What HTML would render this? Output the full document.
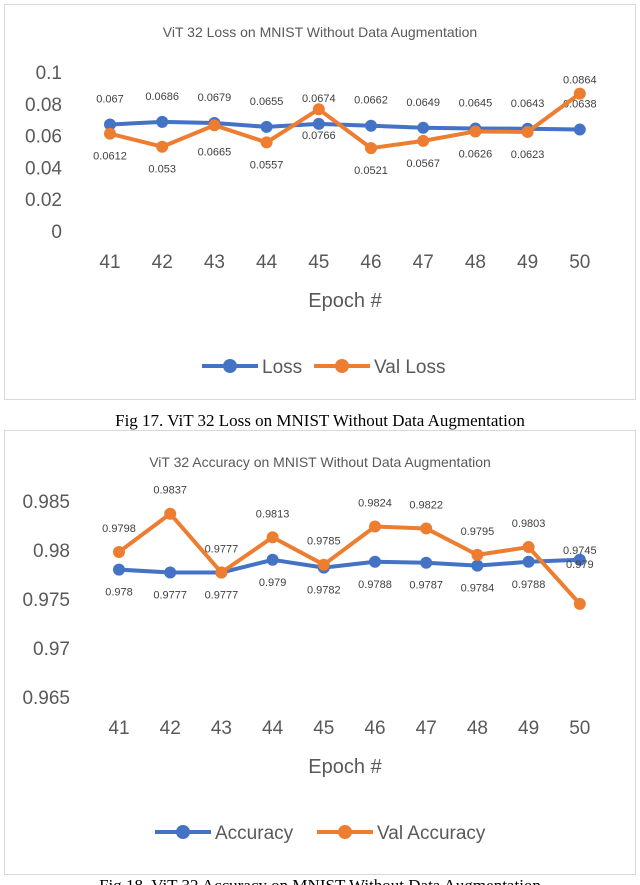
<!DOCTYPE html>
<html><head><meta charset="utf-8"><style>
body{margin:0;background:#fff;width:640px;height:885px;overflow:hidden;font-family:"Liberation Sans",sans-serif}
svg{position:absolute;left:0;top:0}
</style></head><body>
<svg id="s" width="640" height="885" xmlns="http://www.w3.org/2000/svg">
<rect x="4.5" y="4.5" width="631" height="395" fill="#fff" stroke="#d9d9d9"/>
<text x="320" y="37" text-anchor="middle" font-size="14" fill="#595959">ViT 32 Loss on MNIST Without Data Augmentation</text>
<text x="345" y="307" text-anchor="middle" font-size="20" fill="#595959">Epoch #</text>
<text x="320" y="426" text-anchor="middle" font-size="17" font-family="Liberation Serif,serif" fill="#000">Fig 17. ViT 32 Loss on MNIST Without Data Augmentation</text>
<rect x="4.5" y="430.5" width="631" height="444" fill="#fff" stroke="#d9d9d9"/>
<text x="320" y="467" text-anchor="middle" font-size="14" fill="#595959">ViT 32 Accuracy on MNIST Without Data Augmentation</text>
<text x="345" y="773" text-anchor="middle" font-size="20" fill="#595959">Epoch #</text>
<text x="320" y="891" text-anchor="middle" font-size="17" font-family="Liberation Serif,serif" fill="#000">Fig 18. ViT 32 Accuracy on MNIST Without Data Augmentation</text>
</svg>
<script>
const epochs=[41,42,43,44,45,46,47,48,49,50];
const loss=[0.067,0.0686,0.0679,0.0655,0.0674,0.0662,0.0649,0.0645,0.0643,0.0638];
const valLoss=[0.0612,0.053,0.0665,0.0557,0.0766,0.0521,0.0567,0.0626,0.0623,0.0864];
const lossTicks=[0,0.02,0.04,0.06,0.08,0.1];
const lossTickLabels=["0","0.02","0.04","0.06","0.08","0.1"];
const acc=[0.978,0.9777,0.9777,0.979,0.9782,0.9788,0.9787,0.9784,0.9788,0.979];
const valAcc=[0.9798,0.9837,0.9777,0.9813,0.9785,0.9824,0.9822,0.9795,0.9803,0.9745];
const accTicks=[0.965,0.97,0.975,0.98,0.985];
const accTickLabels=["0.965","0.97","0.975","0.98","0.985"];
const NS="http://www.w3.org/2000/svg";
const svg=document.getElementById('s');
function el(t,a,txt){const e=document.createElementNS(NS,t);for(const k in a)e.setAttribute(k,a[k]);if(txt!==undefined)e.textContent=txt;svg.appendChild(e);return e;}
const BLUE="#4472C4",ORANGE="#ED7D31";
function chart(o){
  const x=i=>o.x0+i*o.dx;
  const y=v=>o.yBase-(v-o.vBase)*o.k;
  o.ticks.forEach((t,i)=>{
    const e=el('text',{x:o.tickX,y:y(t)+7,'text-anchor':'end','font-size':19,fill:'#595959'},o.tickLabels[i]);
    
    
  });
  epochs.forEach((ep,i)=>{
    const e=el('text',{x:x(i),y:o.xLabY,'text-anchor':'middle','font-size':19,fill:'#595959'},ep);
    
    
  });
  o.series.forEach(s=>{
    const p=el('polyline',{points:s.data.map((v,i)=>x(i)+','+y(v)).join(' '),fill:'none',stroke:s.color,'stroke-width':4,'stroke-linejoin':'round'});
    
    
    s.data.forEach((v,i)=>{
      const c=el('circle',{cx:x(i),cy:y(v),r:6,fill:s.color});
      
      
      const t=el('text',{x:x(i),y:y(v)+s.off[i],'text-anchor':'middle','font-size':11,fill:'#404040'},String(v));
      
      
    });
  });
  o.legend.forEach(l=>{
    const ln=el('line',{x1:l.x-28,y1:o.legY,x2:l.x+28,y2:o.legY,stroke:l.color,'stroke-width':4});
    
    
    const c=el('circle',{cx:l.x,cy:o.legY,r:7,fill:l.color});
    
    
    const t=el('text',{x:l.x+32,y:o.legY+7,'font-size':19,fill:'#595959'},l.label);
    
    
  });
}
const lossOff=[-22,-22,-22,-22,-22,-22,-22,-22,-22,-22];
const valLossOff=[26,26,30,26,30,26,26,26,26,-10];
chart({id:'chart1',x0:110,dx:52.2,yBase:231,vBase:0,k:1590,tickX:62,xLabY:268,
  ticks:lossTicks,tickLabels:lossTickLabels,
  series:[{name:'loss',data:loss,color:BLUE,off:lossOff},{name:'val-loss',data:valLoss,color:ORANGE,off:valLossOff}],
  legend:[{x:230,color:BLUE,label:'Loss'},{x:342,color:ORANGE,label:'Val Loss'}],legY:366});
const accOff=[26,26,26,26,26,26,26,26,26,8];
const valAccOff=[-20,-20,-20,-20,-20,-20,-20,-20,-20,-50];
chart({id:'chart2',x0:119,dx:51.2,yBase:697,vBase:0.965,k:9800,tickX:70,xLabY:734,
  ticks:accTicks,tickLabels:accTickLabels,
  series:[{name:'accuracy',data:acc,color:BLUE,off:accOff},{name:'val-accuracy',data:valAcc,color:ORANGE,off:valAccOff}],
  legend:[{x:183,color:BLUE,label:'Accuracy'},{x:345,color:ORANGE,label:'Val Accuracy'}],legY:832});
</script>
</body></html>
